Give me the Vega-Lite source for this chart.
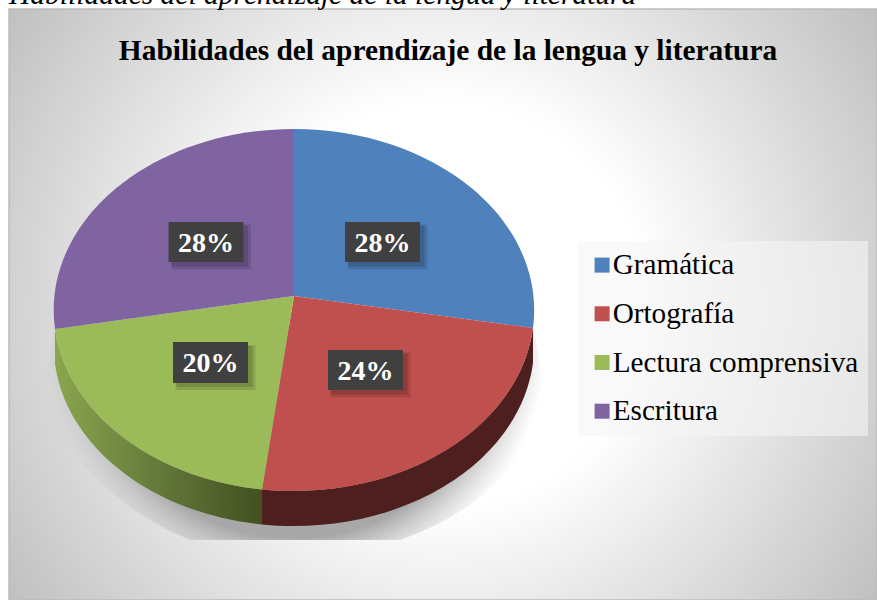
{
"$schema":"https://vega.github.io/schema/vega-lite/v6.json",
"width":868,"height":591,
"autosize":{"type":"none"},
"padding":{"left":9,"top":9,"right":0,"bottom":0},
"background":"#ffffff",
"view":{"stroke":null},
"config":{"view":{"stroke":null}},
"title":{"text":"Habilidades del aprendizaje de la lengua y literatura","font":"Liberation Serif","fontSize":29.4,"fontWeight":"bold","color":"#000000","anchor":"middle","frame":"group","dx":5,"offset":-218.5,"baseline":"alphabetic"},
"data":{"values":[
{"Habilidad":"Gramática","Porcentaje":0.28},
{"Habilidad":"Ortografía","Porcentaje":0.24},
{"Habilidad":"Lectura comprensiva","Porcentaje":0.20},
{"Habilidad":"Escritura","Porcentaje":0.28}
]},
"layer":[
{"data":{"values":[{}]},
 "mark":{"type":"point","filled":true,"opacity":1,"size":753424,"shape":"M-1,-0.681 L1,-0.681 L1,0.681 L-1,0.681 Z M0,-1 L0,1 Z","fill":{"gradient":"radial","x1":0.5,"y1":0.5,"r1":0,"x2":0.5,"y2":0.5,"r2":0.608,"stops":[{"offset":0,"color":"#ffffff"},{"offset":0.38,"color":"#ffffff"},{"offset":1,"color":"#bfbfbf"}]}},
 "encoding":{"x":{"datum":434,"type":"quantitative","scale":{"domain":[0,868],"nice":false,"zero":false},"axis":null},"y":{"datum":295.5,"type":"quantitative","scale":{"domain":[0,591],"nice":false,"zero":false,"reverse":true},"axis":null}}},
{"data":{"values":[{}]},
 "mark":{"type":"rect","stroke":"#bcbcbc","strokeWidth":1.5,"fill":"transparent"},
 "encoding":{"x":{"datum":0,"type":"quantitative"},"x2":{"datum":868},"y":{"datum":0,"type":"quantitative"},"y2":{"datum":591}}},
{"data":{"values":[{}]},
 "mark":{"type":"text","text":"Habilidades del aprendizaje de la lengua y literatura","font":"Liberation Serif","fontStyle":"italic","fontSize":29.5,"align":"left","baseline":"alphabetic","color":"#000000"},
 "encoding":{"x":{"datum":0,"type":"quantitative"},"y":{"datum":-5,"type":"quantitative"}}},
{"data":{"values":[{}]},
 "mark":{"type":"point","filled":true,"opacity":1,"size":230400,"shape":"M-0.996,0.0625 L-1.058,0.417 C-0.9,0.66 -0.7,0.85 -0.433,0.958 L0.442,0.958 C0.75,0.85 0.95,0.66 1.058,0.417 L0.996,0.0625 Z M0,-0.875 L0,0.0625 Z","fill":{"gradient":"radial","x1":0.5,"y1":0.53,"r1":0,"x2":0.5,"y2":0.53,"r2":0.5,"stops":[{"offset":0,"color":"rgba(168,168,168,1)"},{"offset":0.8,"color":"rgba(168,168,168,1)"},{"offset":1,"color":"rgba(200,200,200,0)"}]}},
 "encoding":{"x":{"datum":285,"type":"quantitative"},"y":{"datum":301,"type":"quantitative"}}},
{"transform":[{"filter":"datum.Habilidad === 'Ortografía'"}],
 "mark":{"type":"point","filled":true,"opacity":1,"size":230400,"fill":"#4d1f1e","shape":"M0.9958,0.075 A1,0.7542 0 0 1 -0.1333,0.7475 L-0.1333,0.8933 A1,0.7542 0 0 0 0.9958,0.2208 Z"},
 "encoding":{"x":{"datum":285,"type":"quantitative"},"y":{"datum":301,"type":"quantitative"}}},
{"transform":[{"filter":"datum.Habilidad === 'Lectura comprensiva'"}],
 "mark":{"type":"point","filled":true,"opacity":1,"size":230400,"fill":{"gradient":"linear","x1":0,"y1":0,"x2":1,"y2":0,"stops":[{"offset":0,"color":"#8aa64e"},{"offset":0.5,"color":"#64793a"},{"offset":1,"color":"#435020"}]},"shape":"M-0.1333,0.7475 L-0.1333,0.8933 A1,0.7542 0 0 1 -0.9958,0.2250 L-0.9958,0.0792 A1,0.7542 0 0 0 -0.1333,0.7475 Z"},
 "encoding":{"x":{"datum":285,"type":"quantitative"},"y":{"datum":301,"type":"quantitative"}}},
{"mark":{"type":"point","filled":true,"opacity":1,"size":1},
 "encoding":{
  "x":{"datum":285,"type":"quantitative"},"y":{"datum":301,"type":"quantitative"},
  "color":{"field":"Habilidad","type":"nominal","sort":null,
   "scale":{"domain":["Gramática","Ortografía","Lectura comprensiva","Escritura"],"range":["#4f81bd","#c0504d","#9bbb59","#8064a2"]},
   "legend":{"title":null,"orient":"none","legendX":569,"legendY":232,"symbolType":"square","symbolSize":225,"symbolStrokeWidth":0,"labelFont":"Liberation Serif","labelFontSize":29.2,"labelColor":"#000000","labelOffset":-4,"padding":9.5,"rowPadding":18.7,"fillColor":"rgba(245,245,245,0.6)","strokeColor":null,"labelLimit":400}}}},
{"transform":[{"filter":"datum.Habilidad === 'Gramática'"}],
 "mark":{"type":"point","filled":true,"opacity":1,"size":230400,"shape":"M0,-0.0583 L0,-0.7542 A1,0.7542 0 0 1 0.9958,0.075 Z"},
 "encoding":{"x":{"datum":285,"type":"quantitative"},"y":{"datum":301,"type":"quantitative"},
  "fill":{"field":"Habilidad","type":"nominal","legend":null,"scale":{"domain":["Gramática","Ortografía","Lectura comprensiva","Escritura"],"range":["#4f81bd","#c0504d","#9bbb59","#8064a2"]}}}},
{"transform":[{"filter":"datum.Habilidad === 'Ortografía'"}],
 "mark":{"type":"point","filled":true,"opacity":1,"size":230400,"shape":"M0,-0.0583 L0.9958,0.075 A1,0.7542 0 0 1 -0.1333,0.7475 Z"},
 "encoding":{"x":{"datum":285,"type":"quantitative"},"y":{"datum":301,"type":"quantitative"},
  "fill":{"field":"Habilidad","type":"nominal","legend":null}}},
{"transform":[{"filter":"datum.Habilidad === 'Lectura comprensiva'"}],
 "mark":{"type":"point","filled":true,"opacity":1,"size":230400,"shape":"M0,-0.0583 L-0.1333,0.7475 A1,0.7542 0 0 1 -0.9958,0.0792 Z"},
 "encoding":{"x":{"datum":285,"type":"quantitative"},"y":{"datum":301,"type":"quantitative"},
  "fill":{"field":"Habilidad","type":"nominal","legend":null}}},
{"transform":[{"filter":"datum.Habilidad === 'Escritura'"}],
 "mark":{"type":"point","filled":true,"opacity":1,"size":230400,"shape":"M0,-0.0583 L-0.9958,0.0792 A1,0.7542 0 0 1 0,-0.7542 Z"},
 "encoding":{"x":{"datum":285,"type":"quantitative"},"y":{"datum":301,"type":"quantitative"},
  "fill":{"field":"Habilidad","type":"nominal","legend":null}}},
{"transform":[{"filter":"datum.Habilidad === 'Gramática'"}],
 "encoding":{"x":{"datum":373.5,"type":"quantitative"},"y":{"datum":233,"type":"quantitative"},"text":{"field":"Porcentaje","type":"quantitative","format":".0%"}},
 "layer":[
  {"mark":{"type":"rect","width":80,"height":45,"xOffset":5,"yOffset":5,"fill":"#000000","opacity":0.12}},
  {"mark":{"type":"rect","width":76,"height":41,"xOffset":4,"yOffset":4,"fill":"#000000","opacity":0.14}},
  {"mark":{"type":"rect","width":75,"height":40,"fill":"#404040"}},
  {"mark":{"type":"text","font":"Liberation Serif","fontWeight":"bold","fontSize":28,"color":"#ffffff","baseline":"middle","yOffset":2}}]},
{"transform":[{"filter":"datum.Habilidad === 'Ortografía'"}],
 "encoding":{"x":{"datum":356.5,"type":"quantitative"},"y":{"datum":361,"type":"quantitative"},"text":{"field":"Porcentaje","type":"quantitative","format":".0%"}},
 "layer":[
  {"mark":{"type":"rect","width":80,"height":45,"xOffset":5,"yOffset":5,"fill":"#000000","opacity":0.12}},
  {"mark":{"type":"rect","width":76,"height":41,"xOffset":4,"yOffset":4,"fill":"#000000","opacity":0.14}},
  {"mark":{"type":"rect","width":75,"height":40,"fill":"#404040"}},
  {"mark":{"type":"text","font":"Liberation Serif","fontWeight":"bold","fontSize":28,"color":"#ffffff","baseline":"middle","yOffset":2}}]},
{"transform":[{"filter":"datum.Habilidad === 'Lectura comprensiva'"}],
 "encoding":{"x":{"datum":201.5,"type":"quantitative"},"y":{"datum":353.5,"type":"quantitative"},"text":{"field":"Porcentaje","type":"quantitative","format":".0%"}},
 "layer":[
  {"mark":{"type":"rect","width":80,"height":45,"xOffset":5,"yOffset":5,"fill":"#000000","opacity":0.12}},
  {"mark":{"type":"rect","width":76,"height":41,"xOffset":4,"yOffset":4,"fill":"#000000","opacity":0.14}},
  {"mark":{"type":"rect","width":75,"height":41,"fill":"#404040"}},
  {"mark":{"type":"text","font":"Liberation Serif","fontWeight":"bold","fontSize":28,"color":"#ffffff","baseline":"middle","yOffset":1}}]},
{"transform":[{"filter":"datum.Habilidad === 'Escritura'"}],
 "encoding":{"x":{"datum":197,"type":"quantitative"},"y":{"datum":233,"type":"quantitative"},"text":{"field":"Porcentaje","type":"quantitative","format":".0%"}},
 "layer":[
  {"mark":{"type":"rect","width":80,"height":45,"xOffset":5,"yOffset":5,"fill":"#000000","opacity":0.12}},
  {"mark":{"type":"rect","width":76,"height":41,"xOffset":4,"yOffset":4,"fill":"#000000","opacity":0.14}},
  {"mark":{"type":"rect","width":75,"height":40,"fill":"#404040"}},
  {"mark":{"type":"text","font":"Liberation Serif","fontWeight":"bold","fontSize":28,"color":"#ffffff","baseline":"middle","yOffset":2}}]}
]
}
